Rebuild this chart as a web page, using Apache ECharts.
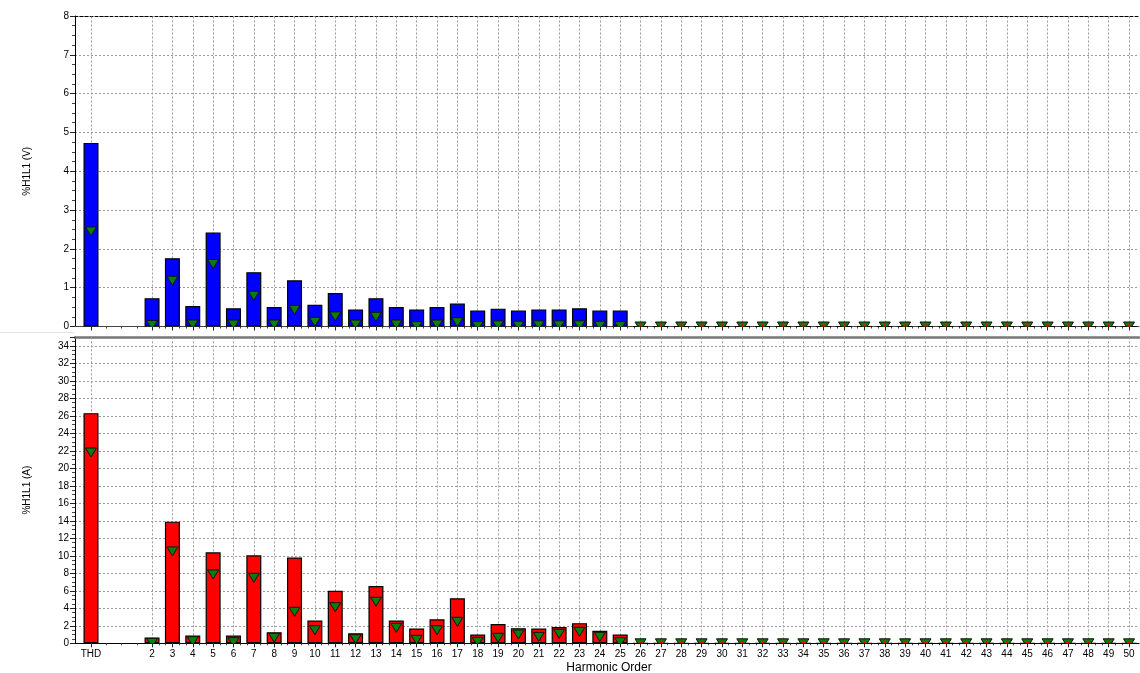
<!DOCTYPE html>
<html>
<head>
<meta charset="utf-8">
<script src="https://cdn.jsdelivr.net/npm/echarts@6/dist/echarts.min.js"></script>
<style>
  html, body { margin: 0; padding: 0; background: #fff; }
  #chart { width: 1140px; height: 673px; }
</style>
</head>
<body>
<div id="chart"></div>
<script>
// Order labels: total distortion first, then harmonic orders 2..50
const orderLabels = ['THD', '2', '3', '4', '5', '6', '7', '8', '9', '10',
  '11', '12', '13', '14', '15', '16', '17', '18', '19', '20',
  '21', '22', '23', '24', '25', '26', '27', '28', '29', '30',
  '31', '32', '33', '34', '35', '36', '37', '38', '39', '40',
  '41', '42', '43', '44', '45', '46', '47', '48', '49', '50'];

// Voltage harmonics, % of fundamental (bars)
const voltageLevels = [4.73, 0.73, 1.76, 0.53, 2.42, 0.47, 1.40, 0.50, 1.19, 0.56,
  0.86, 0.44, 0.73, 0.50, 0.44, 0.50, 0.59, 0.41, 0.46, 0.41,
  0.44, 0.44, 0.47, 0.41, 0.41, 0, 0, 0, 0, 0,
  0, 0, 0, 0, 0, 0, 0, 0, 0, 0,
  0, 0, 0, 0, 0, 0, 0, 0, 0, 0];

// Voltage harmonics, second reading (green markers)
const voltageMarks = [2.45, 0.04, 1.18, 0.05, 1.61, 0.05, 0.79, 0.05, 0.43, 0.12,
  0.26, 0.05, 0.25, 0.05, 0.01, 0.05, 0.11, 0.01, 0.03, 0.02,
  0.03, 0.03, 0.03, 0.02, 0.01, 0, 0, 0, 0, 0,
  0, 0, 0, 0, 0, 0, 0, 0, 0, 0,
  0, 0, 0, 0, 0, 0, 0, 0, 0, 0];

// Current harmonics, % of fundamental (bars)
const currentLevels = [26.3, 0.65, 13.9, 0.88, 10.4, 0.88, 10.05, 1.26, 9.8, 2.6,
  6.0, 1.15, 6.55, 2.6, 1.68, 2.74, 5.15, 1.0, 2.2, 1.73,
  1.68, 1.85, 2.3, 1.44, 1.0, 0, 0, 0, 0, 0,
  0, 0, 0, 0, 0, 0, 0, 0, 0, 0,
  0, 0, 0, 0, 0, 0, 0, 0, 0, 0];

// Current harmonics, second reading (green markers)
const currentMarks = [21.8, 0.05, 10.5, 0.24, 7.87, 0.13, 7.49, 0.63, 3.6, 1.5,
  4.13, 0.47, 4.75, 1.77, 0.4, 1.5, 2.46, 0.17, 0.63, 1.0,
  0.74, 1.09, 1.32, 0.74, 0.13, 0, 0, 0, 0, 0,
  0, 0, 0, 0, 0, 0, 0, 0, 0, 0,
  0, 0, 0, 0, 0, 0, 0, 0, 0, 0];

// THD sits at 0, orders 0 and 1 are left empty, harmonic n sits at n + 1
const posOf = i => (i === 0 ? 0 : i + 2);
const tickPositions = orderLabels.map((_, i) => posOf(i));
const labelByPos = {};
orderLabels.forEach((l, i) => { labelByPos[posOf(i)] = l; });

// minor ticks: quarters across the THD gap, thirds between harmonics
const minorPositions = [];
for (let i = 0; i < tickPositions.length - 1; i++) {
  const a = tickPositions[i], b = tickPositions[i + 1];
  const n = i === 0 ? 4 : 3;
  for (let k = 1; k < n; k++) minorPositions.push(a + (b - a) * k / n);
}

const X_MIN = -0.786, X_MAX = 51.49;
const FONT = 'Liberation Sans, Arial, sans-serif';
const GRID_LINE = { color: '#9a9a9a', type: [2, 2], width: 1 };

function mainXAxis(grid, showLabels, lineColor) {
  return {
    type: 'value', gridIndex: grid, position: 'bottom', min: X_MIN, max: X_MAX,
    axisLine: { show: true, onZero: false, lineStyle: { color: lineColor, width: 1 } },
    axisTick: { show: true, customValues: tickPositions, length: 4, lineStyle: { color: '#222' } },
    axisLabel: {
      show: showLabels, customValues: tickPositions, margin: 6,
      fontSize: 10, color: '#000', fontFamily: FONT,
      formatter: v => labelByPos[Math.round(v)] || ''
    },
    splitLine: { show: false }
  };
}
function minorXAxis(grid) {
  return {
    type: 'value', gridIndex: grid, position: 'bottom', min: X_MIN, max: X_MAX,
    axisLine: { show: false, onZero: false },
    axisTick: { show: true, customValues: minorPositions, length: 2, lineStyle: { color: '#444' } },
    axisLabel: { show: false },
    splitLine: { show: false }
  };
}
function topXAxis(grid, lineStyle) {
  return {
    type: 'value', gridIndex: grid, position: 'top', min: X_MIN, max: X_MAX,
    axisLine: { show: true, onZero: false, lineStyle: lineStyle },
    axisTick: { show: false }, axisLabel: { show: false }, splitLine: { show: false }
  };
}
function yAxis(grid, max, interval, name) {
  return {
    type: 'value', gridIndex: grid, min: 0, max: max, interval: interval,
    name: name, nameLocation: 'middle', nameGap: 43,
    nameTextStyle: { fontSize: 10, color: '#000', fontFamily: FONT },
    axisLine: { show: true, onZero: false, lineStyle: { color: '#000' } },
    axisTick: { show: true, length: 5, lineStyle: { color: '#222' } },
    minorTick: { show: true, splitNumber: 4, length: 3, lineStyle: { color: '#444' } },
    axisLabel: { fontSize: 10, color: '#000', margin: 6, fontFamily: FONT, showMaxLabel: max % interval === 0 },
    splitLine: { show: true, lineStyle: GRID_LINE }
  };
}

function barSeries(axisIdx, values, color) {
  return {
    type: 'bar', xAxisIndex: axisIdx, yAxisIndex: axisIdx === 0 ? 0 : 1,
    barWidth: 15, z: 3, silent: true,
    itemStyle: { color: color, borderColor: '#000', borderWidth: 1.2 },
    data: values.map((v, i) => [posOf(i), v])
  };
}
function markerSeries(axisIdx, marks, levels) {
  return {
    type: 'custom', xAxisIndex: axisIdx, yAxisIndex: axisIdx === 0 ? 0 : 1,
    clip: true, z: 5, silent: true,
    encode: { x: 0, y: 1 },
    data: marks.map((v, i) => [posOf(i), v, levels[i]]),
    renderItem: function (params, api) {
      const p = api.coord([api.value(0), api.value(1)]);
      const children = [{
        type: 'polygon',
        shape: { points: [[p[0] - 5.5, p[1] - 4.5], [p[0] + 5.5, p[1] - 4.5], [p[0], p[1] + 4.5]] },
        style: { fill: '#0b7d0b', stroke: '#111', lineWidth: 1 }
      }];
      if (api.value(2) === 0) {
        children.push({ type: 'circle', shape: { cx: p[0], cy: p[1] - 1, r: 1.6 }, style: { fill: '#ff0000' } });
      }
      return { type: 'group', children: children };
    }
  };
}
// vertical dotted grid lines at each labelled order, kept behind the bars
function orderGridLines(xIdx, yIdx) {
  return {
    type: 'line', xAxisIndex: xIdx, yAxisIndex: yIdx, data: [], silent: true, z: 1,
    markLine: {
      silent: true, symbol: 'none', animation: false, z: 1,
      label: { show: false },
      lineStyle: GRID_LINE,
      emphasis: { disabled: true },
      data: tickPositions.map(p => ({ xAxis: p }))
    }
  };
}

const chart = echarts.init(document.getElementById('chart'), null, { renderer: 'canvas' });
chart.setOption({
  animation: false,
  backgroundColor: '#fff',
  textStyle: { fontFamily: FONT },
  grid: [
    { left: 75, right: 1, top: 16, bottom: 346.5, outerBoundsMode: 'none' },
    { left: 75, right: 1, top: 337, bottom: 29.7, outerBoundsMode: 'none' }
  ],
  xAxis: [
    mainXAxis(0, false, '#444'),
    mainXAxis(1, true, '#000'),
    minorXAxis(0),
    minorXAxis(1),
    topXAxis(0, { color: '#000', type: [3, 2], width: 1 }),
    topXAxis(1, { color: '#777', width: 2.5 })
  ],
  yAxis: [
    yAxis(0, 8, 1, '%H1L1 (V)'),
    yAxis(1, 35, 2, '%H1L1 (A)')
  ],
  series: [
    orderGridLines(2, 0),
    orderGridLines(3, 1),
    barSeries(0, voltageLevels, '#0000ff'),
    markerSeries(0, voltageMarks, voltageLevels),
    barSeries(1, currentLevels, '#ff0000'),
    markerSeries(1, currentMarks, currentLevels),
    // hold the top border axes on their grids
    { type: 'line', xAxisIndex: 4, yAxisIndex: 0, data: [], silent: true },
    { type: 'line', xAxisIndex: 5, yAxisIndex: 1, data: [], silent: true }
  ],
  graphic: [
    { type: 'line', shape: { x1: 0, y1: 332.5, x2: 74, y2: 332.5 }, style: { stroke: '#e2e2e2', lineWidth: 1 }, silent: true },
    { type: 'text', x: 609, y: 668,
      style: { text: 'Harmonic Order', fontSize: 12, fill: '#000', fontFamily: FONT, textAlign: 'center', textVerticalAlign: 'middle' }, silent: true }
  ]
});
</script>
</body>
</html>
